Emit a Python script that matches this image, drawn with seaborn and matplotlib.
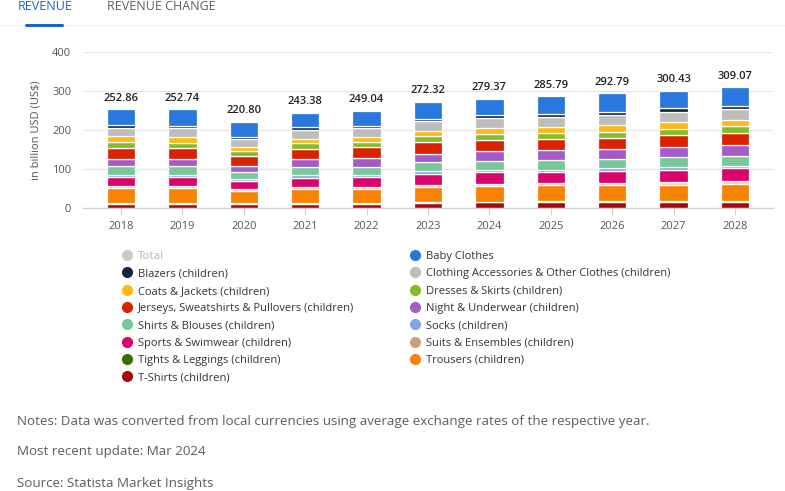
import numpy as np
import pandas as pd
import matplotlib
matplotlib.use("Agg")
import matplotlib.pyplot as plt
import seaborn as sns
from matplotlib.lines import Line2D

# ---------------- data ----------------
years = ["2018", "2019", "2020", "2021", "2022", "2023", "2024", "2025", "2026", "2027", "2028"]
totals = [252.86, 252.74, 220.80, 243.38, 249.04, 272.32, 279.37, 285.79, 292.79, 300.43, 309.07]

t_shirts      = [12.0, 12.0, 11.5, 12.0, 12.0, 14.0, 15.0, 16.5, 16.5, 16.5, 16.5]
tights        = [1.5, 1.5, 1.5, 1.5, 1.5, 1.5, 1.5, 1.5, 1.8, 2.0, 2.0]
trousers      = [39.0, 38.5, 32.0, 36.5, 36.0, 39.5, 41.0, 40.5, 40.5, 42.0, 44.5]
suits         = [5.0, 5.0, 5.0, 5.5, 5.5, 5.5, 5.5, 6.0, 6.0, 7.0, 7.5]
sports        = [22.0, 23.0, 20.0, 23.0, 24.0, 27.0, 28.5, 27.5, 31.0, 31.5, 31.5]
socks         = [6.0, 5.5, 5.0, 5.5, 6.0, 6.5, 6.5, 7.0, 6.0, 5.5, 6.5]
shirts        = [22.0, 22.0, 18.0, 21.5, 21.5, 24.0, 23.5, 24.0, 24.5, 26.0, 26.0]
night         = [19.0, 18.5, 16.0, 20.0, 21.5, 21.5, 24.0, 25.0, 24.0, 25.5, 26.5]
jerseys       = [27.0, 27.0, 25.5, 26.5, 28.0, 30.0, 30.0, 28.0, 30.5, 31.5, 31.5]
dresses       = [15.0, 14.5, 13.0, 14.0, 12.5, 14.5, 14.5, 17.0, 15.0, 16.0, 18.0]
coats         = [16.0, 15.0, 10.0, 12.0, 13.5, 14.5, 15.0, 14.5, 17.5, 17.0, 16.0]
accessories   = [21.0, 21.5, 18.5, 22.0, 22.5, 23.5, 25.5, 26.0, 26.0, 26.0, 26.0]
blazers       = [7.0, 6.5, 7.0, 6.5, 6.5, 7.0, 7.0, 7.5, 7.5, 8.5, 8.0]
baby_clothes  = [40.36, 42.24, 37.8, 36.88, 38.04, 43.32, 41.87, 44.79, 46.49, 45.43, 48.57]

# stacking order bottom -> top : (label, values, colour)
series = [
    ("T-Shirts (children)", t_shirts, "#a3080f"),
    ("Tights & Leggings (children)", tights, "#3a6b06"),
    ("Trousers (children)", trousers, "#f78300"),
    ("Suits & Ensembles (children)", suits, "#f6cbb3"),
    ("Sports & Swimwear (children)", sports, "#d9046c"),
    ("Socks (children)", socks, "#7ea8e2"),
    ("Shirts & Blouses (children)", shirts, "#77c79b"),
    ("Night & Underwear (children)", night, "#a45bca"),
    ("Jerseys, Sweatshirts & Pullovers (children)", jerseys, "#db2200"),
    ("Dresses & Skirts (children)", dresses, "#86bc2b"),
    ("Coats & Jackets (children)", coats, "#fdb813"),
    ("Clothing Accessories & Other Clothes (children)", accessories, "#bdbdbd"),
    ("Blazers (children)", blazers, "#0f2640"),
    ("Baby Clothes", baby_clothes, "#2a77dd"),
]
legend_marker_colors = {"Suits & Ensembles (children)": "#c9a27c"}

left_legend = ["Total", "Blazers (children)", "Coats & Jackets (children)",
               "Jerseys, Sweatshirts & Pullovers (children)", "Shirts & Blouses (children)",
               "Sports & Swimwear (children)", "Tights & Leggings (children)", "T-Shirts (children)"]
right_legend = ["Baby Clothes", "Clothing Accessories & Other Clothes (children)",
                "Dresses & Skirts (children)", "Night & Underwear (children)",
                "Socks (children)", "Suits & Ensembles (children)", "Trousers (children)"]

# ---------------- style ----------------
sns.set_theme(style="white")
plt.rcParams["font.family"] = ["Open Sans", "DejaVu Sans"]

W, H = 785, 491
fig = plt.figure(figsize=(W / 100, H / 100), dpi=100)
fig.patch.set_facecolor("white")

def fx(px):
    return px / W

def fy(py):
    return 1 - py / H

ax = fig.add_axes([fx(83), fy(208.3), fx(773) - fx(83), fy(51.7) - fy(208.3)])

bottom = np.zeros(len(years))
colors = {}
for name, vals, col in series:
    colors[name] = col
    sns.barplot(x=years, y=vals, bottom=bottom.copy(), color=col, width=0.46,
                edgecolor="white", linewidth=0.9, saturation=1, ax=ax, order=years)
    bottom = bottom + np.array(vals)

for i, t in enumerate(totals):
    ax.annotate(f"{t:.2f}", xy=(i, bottom[i]), xytext=(0, 4), textcoords="offset points",
                ha="center", va="bottom", fontsize=8, color="#222222", fontweight="semibold")

ax.set_ylim(0, 400)
ax.set_xlim(-0.62, 10.62)
ax.set_yticks([0, 100, 200, 300, 400])
ax.yaxis.grid(True, color="#e6e6e6", linewidth=0.9)
ax.set_axisbelow(True)
for s in ["top", "right", "left"]:
    ax.spines[s].set_visible(False)
ax.spines["bottom"].set_color("#cfcfcf")
ax.spines["bottom"].set_linewidth(0.9)
ax.tick_params(axis="y", length=0, pad=8.5, labelsize=8, labelcolor="#555555")
ax.tick_params(axis="x", length=5, width=0.8, color="#cfcfcf", pad=4, labelsize=8,
               labelcolor="#555555", bottom=True)
ax.set_xlabel("")
ax.set_ylabel("")
fig.text(fx(36), fy(130), "in billion USD (US$)", rotation=90, ha="center", va="center",
         fontsize=8, color="#555555")

# ---------------- legends ----------------
def make_handles(names):
    hs = []
    for n in names:
        if n == "Total":
            c = "#cccccc"
        else:
            c = legend_marker_colors.get(n, colors[n])
        hs.append(Line2D([], [], marker="o", linestyle="", markersize=7, markerfacecolor=c,
                         markeredgecolor=c, label=n))
    return hs

for names, x0 in [(left_legend, 123), (right_legend, 411)]:
    leg = fig.legend(handles=make_handles(names), loc="upper left",
                     bbox_to_anchor=(fx(x0), fy(251)), frameon=False, fontsize=8,
                     handlelength=0.8, handletextpad=0.55, labelspacing=0.57,
                     borderpad=0, borderaxespad=0)
    for txt in leg.get_texts():
        if txt.get_text() == "Total":
            txt.set_color("#c4c4c4")
            txt.set_fontweight("semibold")
        else:
            txt.set_color("#333333")

# ---------------- tabs & notes ----------------
fig.text(fx(18), fy(6), "REVENUE", ha="left", va="center", fontsize=9, color="#1f62c6")
fig.text(fx(107), fy(6), "REVENUE CHANGE", ha="left", va="center", fontsize=9, color="#555f6b")
fig.add_artist(Line2D([0, 1], [fy(24.5), fy(24.5)], color="#eeeeee", linewidth=0.8))
fig.add_artist(Line2D([fx(26), fx(62)], [fy(24.5), fy(24.5)], color="#1f62c6", linewidth=2.2))

notes = ["Notes: Data was converted from local currencies using average exchange rates of the respective year.",
         "Most recent update: Mar 2024",
         "Source: Statista Market Insights"]
for txt, y in zip(notes, [421, 452, 483]):
    fig.text(fx(17), fy(y), txt, ha="left", va="center", fontsize=9.6, color="#555f66")

fig.savefig("out.png", dpi=100, facecolor="white")
